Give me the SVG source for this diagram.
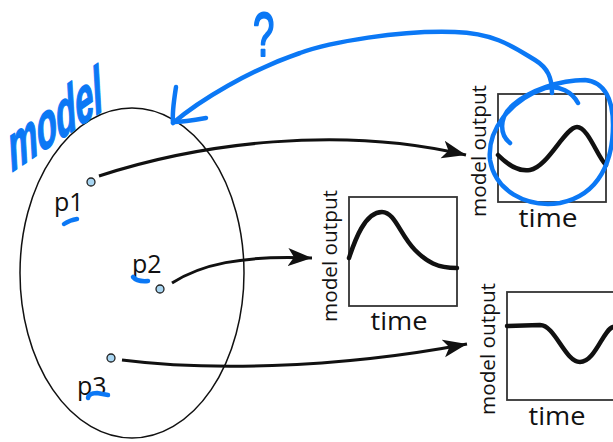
<svg xmlns="http://www.w3.org/2000/svg" width="613" height="442" viewBox="0 0 613 442">
<style>
.lbl{font-family:"Open Sans","Liberation Sans",sans-serif;fill:#111}
.ax{font-size:20px}
.tm{font-size:26px}
.pt{font-size:25px}
.dot{fill:#a9d6f2;stroke:#222;stroke-width:1.3}
.box{fill:none;stroke:#333;stroke-width:1.8}
.crv{fill:none;stroke:#111;stroke-width:4.5;stroke-linecap:round;stroke-linejoin:round}
.con{fill:none;stroke:#111;stroke-width:3}
.pen{fill:none;stroke:#0b78f5;stroke-width:4.5;stroke-linecap:round;stroke-linejoin:round}
.hand{font-family:"Liberation Sans",sans-serif;fill:#0b78f5;stroke:#0b78f5;stroke-width:1.5;stroke-linejoin:round}
</style>
<defs>
<marker id="ah" markerUnits="userSpaceOnUse" markerWidth="26" markerHeight="20" refX="24" refY="10" orient="auto">
<path d="M0,1 L24,10 L0,19 L6,10 Z" fill="#111"/>
</marker>
</defs>
<rect width="613" height="442" fill="#fff"/>

<g id="model">
<ellipse cx="132" cy="273" rx="112" ry="165" fill="none" stroke="#111" stroke-width="1.5"/>
</g>

<g id="p1">
<circle class="dot" cx="91" cy="182" r="4"/>
<text class="lbl pt" x="54" y="211">p1</text>
</g>
<g id="p2">
<circle class="dot" cx="160" cy="289" r="4"/>
<text class="lbl pt" x="132" y="273">p2</text>
</g>
<g id="p3">
<circle class="dot" cx="111" cy="358" r="4"/>
<text class="lbl pt" x="77" y="395">p3</text>
</g>

<g id="chart1">
<rect class="box" x="498" y="94" width="108" height="108"/>
<path class="crv" d="M498,155 C508,165 518,172 530,170 C548,167 565,127 577,127 C588,127 598,158 606,165"/>
<text class="lbl ax" transform="translate(486,151) rotate(-90)" text-anchor="middle" textLength="132" lengthAdjust="spacingAndGlyphs">model output</text>
<text class="lbl tm" x="548" y="227" text-anchor="middle" textLength="59" lengthAdjust="spacingAndGlyphs">time</text>
</g>
<g id="chart2">
<rect class="box" x="349" y="197" width="108" height="109"/>
<path class="crv" d="M349,258 C355,240 365,212 382,212 C395,212 400,235 415,250 C427,262 437,268 457,268"/>
<text class="lbl ax" transform="translate(337,256) rotate(-90)" text-anchor="middle" textLength="132" lengthAdjust="spacingAndGlyphs">model output</text>
<text class="lbl tm" x="399" y="330" text-anchor="middle" textLength="57" lengthAdjust="spacingAndGlyphs">time</text>
</g>
<g id="chart3">
<rect class="box" x="507" y="292" width="112" height="108"/>
<path class="crv" d="M507,326 L540,325 C555,325 565,362 580,362 C595,362 603,330 613,327"/>
<text class="lbl ax" transform="translate(495,349) rotate(-90)" text-anchor="middle" textLength="132" lengthAdjust="spacingAndGlyphs">model output</text>
<text class="lbl tm" x="557" y="425" text-anchor="middle" textLength="57" lengthAdjust="spacingAndGlyphs">time</text>
</g>

<g id="connectors">
<path class="con" marker-end="url(#ah)" d="M99,176 C200,143 340,125 466,155"/>
<path class="con" marker-end="url(#ah)" d="M172,283 C200,265 240,255 312,258"/>
<path class="con" marker-end="url(#ah)" d="M122,360 C200,370 330,370 467,344"/>
</g>

<g id="annotations">
<path class="pen" d="M552,93 C552,78 548,68 535,60 C515,48 495,33 455,32 C400,30 330,42 300,53 C250,70 200,100 173,123"/>
<path class="pen" d="M176,87 C174,100 172,112 173,122 C182,122 195,120 206,118"/>
<path class="pen" d="M510,143 C500,135 498,118 513,105 C530,90 560,80 585,80 C605,82 613,100 613,125 C613,160 600,195 560,203 C525,208 495,190 490,160 C487,130 510,100 545,88 C560,85 572,92 578,103"/>
<path class="pen" d="M64,224 Q70,220 77,219"/>
<path class="pen" d="M133,277 Q137,282 148,281"/>
<path class="pen" d="M88,398 Q89,393 97,393 L108,395"/>
<text class="hand" font-size="58" font-style="italic" font-weight="bold" transform="translate(12,172) rotate(-34) skewX(-25)" textLength="112" lengthAdjust="spacingAndGlyphs">model</text>
<text class="hand" font-size="48" transform="translate(253,56) scale(0.8,1.3)">?</text>
</g>
</svg>
